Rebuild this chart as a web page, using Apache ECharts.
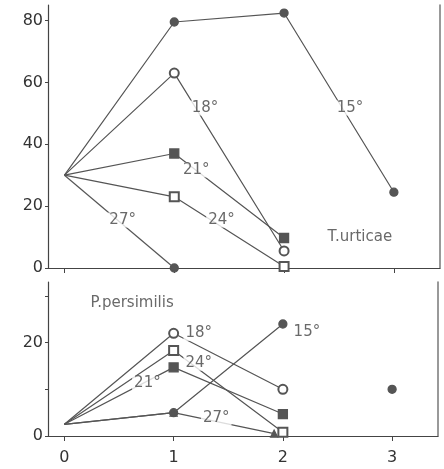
<!DOCTYPE html>
<html>
<head>
<meta charset="utf-8">
<script src="https://cdn.jsdelivr.net/npm/echarts@6/dist/echarts.min.js"></script>
<style>
  html, body { margin: 0; padding: 0; background: #fff; }
  #main { width: 444px; height: 469px; }
</style>
</head>
<body>
<div id="main"></div>
<script>
// x positions (days)
const xTicks = [0, 1, 2, 3];

// T.urticae (top panel)
const topY = [0, 20, 40, 60, 80];
const t15 = [30, 79.5, 82.4, 24.5];
const t18 = [30, 63, 5.5];
const t21 = [30, 37, 9.7];
const t24 = [30, 23, 0.5];
const t27 = [30, 0];
const topNotes = [
  ['18°', 1.28, 51.7], ['21°', 1.2, 31.7], ['24°', 1.43, 15.5],
  ['27°', 0.53, 15.5], ['15°', 2.6, 51.7], ['T.urticae', 2.69, 10]
];

// P.persimilis (bottom panel)
const botYTicks = [0, 10, 20, 30];
const botYLabels = [0, 20];
const p15 = [2.5, 5, 24];
const p15Late = [[3, 10]];
const p18 = [2.5, 22, 10];
const p21 = [2.5, 14.7, 4.7];
const p24 = [2.5, 18.3, 0.8];
const p27 = [[0, 2.5], [1, 5], [1.92, 0.5]];
const botNotes = [
  ['P.persimilis', 0.62, 28.4], ['18°', 1.23, 22], ['24°', 1.23, 15.6],
  ['21°', 0.76, 11.3], ['27°', 1.39, 3.8], ['15°', 2.22, 22.2]
];

const ink = '#555';
const font = 'DejaVu Sans';

function pts(ys) {
  return ys.map((y, i) => i === 0 ? { value: [i, y], symbol: 'none' } : [i, y]);
}
function line(grid, data, symbol, size) {
  return {
    type: 'line', xAxisIndex: grid, yAxisIndex: grid * 2, data: data,
    symbol: symbol, symbolSize: size, showSymbol: true,
    lineStyle: { color: ink, width: 1.2 },
    itemStyle: { color: ink, borderColor: ink, borderWidth: 1.3 },
    z: 3
  };
}
function notes(grid, list) {
  return {
    type: 'scatter', xAxisIndex: grid, yAxisIndex: grid * 2, symbolSize: 0,
    data: list.map(n => ({ name: n[0], value: [n[1], n[2]] })),
    label: {
      show: true, position: 'inside', formatter: p => p.name,
      color: '#444', fontFamily: font, fontSize: 15,
      backgroundColor: '#fff', padding: [0, 2]
    },
    z: 10
  };
}
function xAxis(grid, labels) {
  return {
    type: 'value', gridIndex: grid, min: -0.15, max: 3.42,
    splitLine: { show: false },
    axisLine: { onZero: false, lineStyle: { color: '#444', width: 1.2 } },
    axisTick: { show: true, length: 5, customValues: xTicks, lineStyle: { color: '#444' } },
    axisLabel: {
      show: labels, customValues: xTicks, margin: 14,
      color: '#333', fontFamily: font, fontSize: 16
    }
  };
}
function yAxis(grid, max, ticks, labels) {
  return {
    type: 'value', gridIndex: grid, min: 0, max: max,
    splitLine: { show: false },
    axisLine: { show: true, onZero: false, lineStyle: { color: '#444', width: 1.2 } },
    axisTick: { show: true, length: 3, customValues: ticks, lineStyle: { color: '#444' } },
    axisLabel: {
      customValues: labels, margin: 5,
      color: '#333', fontFamily: font, fontSize: 16
    }
  };
}
function rightEdge(grid, max) {
  return {
    type: 'value', gridIndex: grid, position: 'right', min: 0, max: max,
    splitLine: { show: false },
    axisLine: { show: true, onZero: false, lineStyle: { color: '#777', width: 1.5 } },
    axisTick: { show: false }, axisLabel: { show: false }
  };
}

const chart = echarts.init(document.getElementById('main'));
chart.setOption({
  animation: false,
  backgroundColor: '#fff',
  grid: [
    { left: 48, top: 5, width: 392, height: 263 },
    { left: 48, top: 282, width: 390, height: 154 }
  ],
  xAxis: [xAxis(0, false), xAxis(1, true)],
  yAxis: [
    yAxis(0, 85, topY, topY), rightEdge(0, 85),
    yAxis(1, 33, botYTicks, botYLabels), rightEdge(1, 33)
  ],
  series: [
    line(0, pts(t15), 'circle', 8),
    line(0, pts(t18), 'emptyCircle', 9),
    line(0, pts(t21), 'rect', 9),
    line(0, pts(t24), 'emptyRect', 9),
    line(0, pts(t27), 'circle', 8),
    notes(0, topNotes),
    line(1, pts(p15), 'circle', 8),
    line(1, p15Late, 'circle', 8),
    line(1, pts(p18), 'emptyCircle', 9),
    line(1, pts(p21), 'rect', 9),
    line(1, pts(p24), 'emptyRect', 9),
    line(1, [{ value: p27[0], symbol: 'none' }, p27[1], p27[2]], 'triangle', 7),
    notes(1, botNotes)
  ]
});
</script>
</body>
</html>
